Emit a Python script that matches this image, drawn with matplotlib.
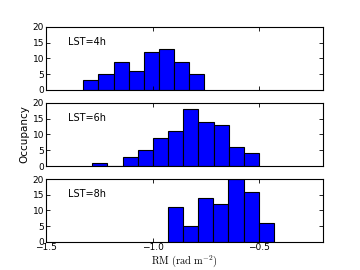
import matplotlib
matplotlib.use("Agg")
import matplotlib.pyplot as plt
import numpy as np

plt.rcParams['mathtext.fontset'] = 'cm'
plt.rcParams['font.family'] = ['DejaVu Sans']

labels = ["LST=4h", "LST=6h", "LST=8h"]
starts = [-1.325, -1.283, -0.929]
widths = [0.0708, 0.0712, 0.0714]
counts_4h = [3, 5, 9, 6, 12, 13, 9, 5]
counts_6h = [1, 0, 3, 5, 9, 11, 18, 14, 13, 6, 4]
counts_8h = [11, 5, 14, 12, 20, 16, 6]
all_counts = [counts_4h, counts_6h, counts_8h]
xticks = [-1.5, -1.0, -0.5]
yticks = [0, 5, 10, 15, 20]

fig = plt.figure(figsize=(3.6, 2.7), dpi=100)
left, width = 0.128, 0.769
rows = [(0.667, 0.233), (0.385, 0.234), (0.104, 0.233)]
axes = []
for i, (b, h) in enumerate(rows):
    ax = fig.add_axes([left, b, width, h])
    c = all_counts[i]
    edges = starts[i] + widths[i] * np.arange(len(c))
    ax.bar(edges, c, width=widths[i], align='edge', color='#0000ff',
           edgecolor='black', linewidth=0.8)
    ax.set_xlim(-1.5, -0.2)
    ax.set_ylim(0, 20)
    ax.set_yticks(yticks)
    ax.set_xticks(xticks)
    ax.tick_params(direction='in', length=3, width=0.6, labelsize=6.5,
                   top=True, right=True, pad=1.5)
    ax.tick_params(axis='x', pad=0.5)
    for s in ax.spines.values():
        s.set_linewidth(0.8)
    if i < 2:
        ax.set_xticklabels([])
    else:
        ax.set_xticklabels(['\u22121.5', '\u22121.0', '\u22120.5'])
    ax.text(0.08, 0.72, labels[i], transform=ax.transAxes, fontsize=7)
    axes.append(ax)

axes[1].set_ylabel("Occupancy", fontsize=7.5, labelpad=2)
axes[2].set_xlabel(r"$\mathrm{RM\ (rad\ m^{-2})}$", fontsize=7.5, labelpad=1)

fig.savefig("out.png", dpi=100)
